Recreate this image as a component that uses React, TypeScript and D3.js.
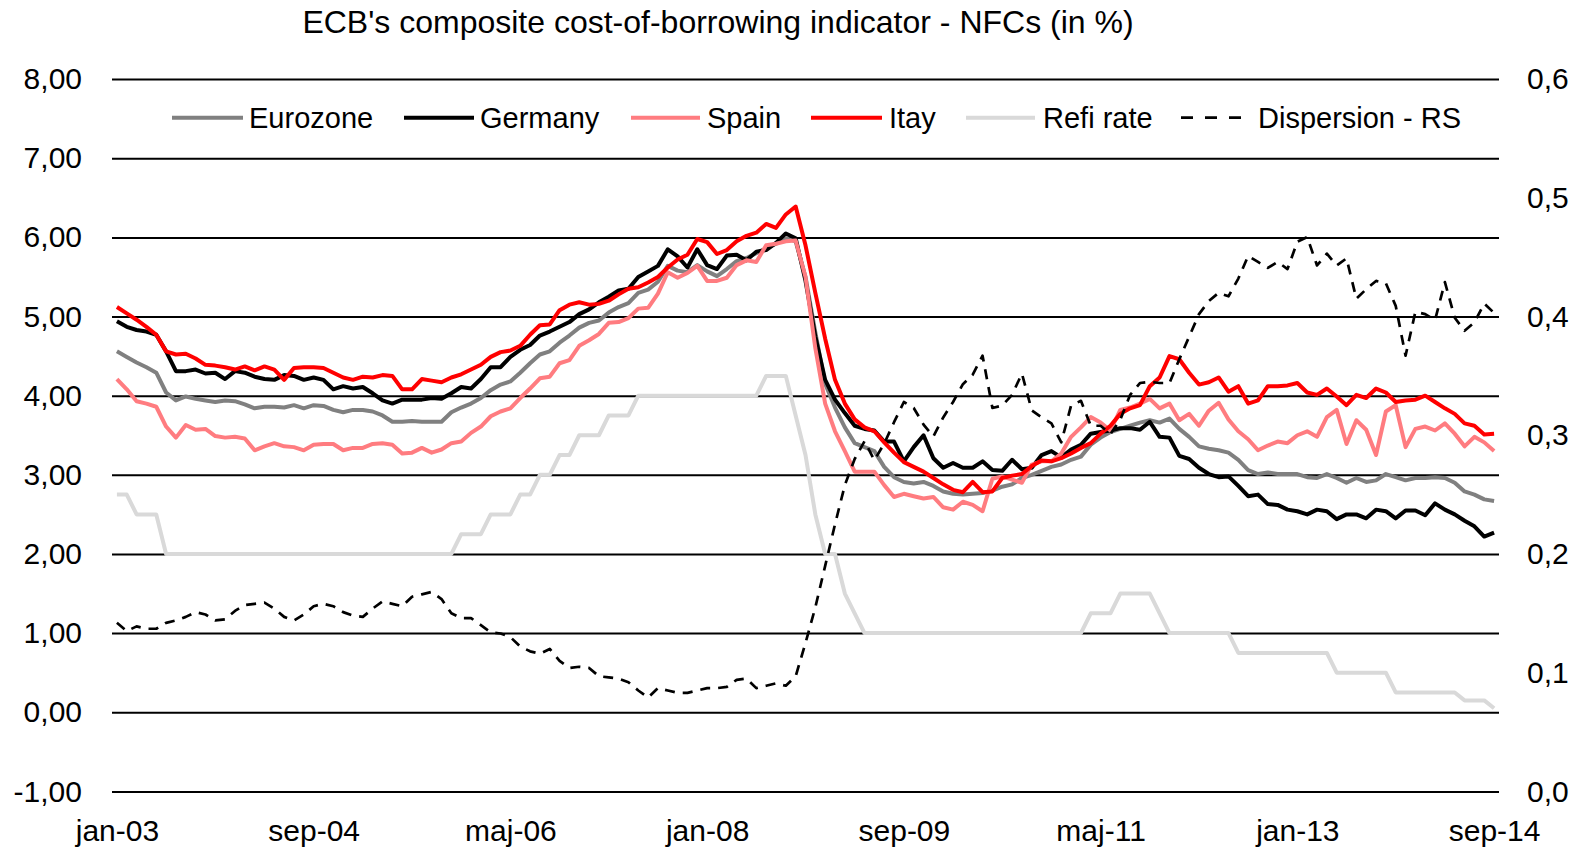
import React, { useEffect, useRef } from "react";
import * as d3 from "d3";

// monthly observations, jan-03 .. sep-14
const monthNames = ["jan", "feb", "mar", "apr", "maj", "jun", "jul", "aug", "sep", "okt", "nov", "dec"];
const months = d3.timeMonth.range(new Date(2003, 0, 1), new Date(2014, 9, 1));
const categories = months.map((d) => monthNames[d.getMonth()] + "-" + String(d.getFullYear()).slice(2));

const tickLabels = ["jan-03", "sep-04", "maj-06", "jan-08", "sep-09", "maj-11", "jan-13", "sep-14"];
const leftTicks = [-1, 0, 1, 2, 3, 4, 5, 6, 7, 8];
const rightTicks = [0, 0.1, 0.2, 0.3, 0.4, 0.5, 0.6];

const eurozone = [
  4.56, 4.49, 4.42, 4.36, 4.29, 4.04, 3.94, 3.99, 3.96, 3.94,
  3.92, 3.94, 3.93, 3.89, 3.84, 3.86, 3.86, 3.85, 3.88, 3.84,
  3.88, 3.87, 3.82, 3.79, 3.82, 3.82, 3.80, 3.75, 3.67, 3.67,
  3.68, 3.67, 3.67, 3.67, 3.79, 3.85, 3.90, 3.97, 4.07, 4.14,
  4.18, 4.29, 4.41, 4.52, 4.56, 4.67, 4.76, 4.86, 4.92, 4.95,
  5.05, 5.12, 5.17, 5.30, 5.34, 5.44, 5.64, 5.58, 5.56, 5.65,
  5.57, 5.51, 5.60, 5.70, 5.74, 5.80, 5.86, 5.92, 5.99, 5.95,
  5.50, 4.80, 4.15, 3.85, 3.60, 3.40, 3.35, 3.30, 3.10, 2.97,
  2.91, 2.89, 2.91, 2.86, 2.79, 2.76, 2.75, 2.76, 2.77, 2.80,
  2.85, 2.88, 2.96, 3.00, 3.05, 3.10, 3.13, 3.19, 3.23, 3.38,
  3.47, 3.54, 3.58, 3.62, 3.66, 3.69, 3.66, 3.71, 3.58, 3.48,
  3.36, 3.33, 3.31, 3.28, 3.19, 3.06, 3.01, 3.03, 3.01, 3.01,
  3.01, 2.97, 2.96, 3.01, 2.96, 2.90, 2.96, 2.91, 2.93, 3.01,
  2.97, 2.93, 2.96, 2.96, 2.97, 2.96, 2.90, 2.79, 2.75, 2.69,
  2.67,
];

const germany = [
  4.94, 4.87, 4.83, 4.81, 4.77, 4.56, 4.31, 4.31, 4.33, 4.28,
  4.29, 4.21, 4.31, 4.29, 4.24, 4.21, 4.20, 4.26, 4.25, 4.20,
  4.23, 4.20, 4.08, 4.12, 4.09, 4.11, 4.03, 3.94, 3.90, 3.95,
  3.95, 3.95, 3.97, 3.96, 4.03, 4.11, 4.09, 4.21, 4.36, 4.36,
  4.49, 4.58, 4.64, 4.76, 4.81, 4.87, 4.93, 5.03, 5.09, 5.18,
  5.25, 5.33, 5.35, 5.50, 5.57, 5.64, 5.85, 5.76, 5.62, 5.85,
  5.65, 5.60, 5.77, 5.78, 5.71, 5.82, 5.84, 5.93, 6.05, 5.99,
  5.45, 4.75, 4.20, 3.95, 3.78, 3.62, 3.58, 3.56, 3.42, 3.42,
  3.17, 3.35, 3.50, 3.21, 3.09, 3.15, 3.09, 3.09, 3.17, 3.06,
  3.05, 3.19, 3.07, 3.09, 3.25, 3.30, 3.22, 3.32, 3.38, 3.52,
  3.54, 3.56, 3.59, 3.59, 3.57, 3.67, 3.48, 3.47, 3.24, 3.20,
  3.09, 3.01, 2.97, 2.98, 2.86, 2.73, 2.75, 2.63, 2.62, 2.56,
  2.54, 2.50, 2.56, 2.54, 2.44, 2.50, 2.50, 2.45, 2.56, 2.54,
  2.45, 2.55, 2.55, 2.49, 2.64, 2.56, 2.50, 2.42, 2.35, 2.22,
  2.27,
];

const spain = [
  4.21, 4.08, 3.93, 3.90, 3.86, 3.61, 3.47, 3.63, 3.57, 3.58,
  3.49, 3.47, 3.48, 3.46, 3.31, 3.36, 3.40, 3.36, 3.35, 3.31,
  3.38, 3.39, 3.39, 3.31, 3.34, 3.34, 3.39, 3.40, 3.38, 3.27,
  3.28, 3.34, 3.28, 3.32, 3.40, 3.42, 3.53, 3.61, 3.74, 3.80,
  3.84, 3.97, 4.09, 4.22, 4.24, 4.41, 4.45, 4.63, 4.70, 4.78,
  4.92, 4.93, 4.98, 5.10, 5.11, 5.29, 5.56, 5.49, 5.55, 5.64,
  5.45, 5.45, 5.49, 5.65, 5.71, 5.69, 5.90, 5.92, 5.95, 5.96,
  5.50, 4.60, 3.90, 3.55, 3.30, 3.04, 3.04, 3.04, 2.87, 2.72,
  2.76, 2.73, 2.70, 2.72, 2.59, 2.56, 2.66, 2.62, 2.54, 2.95,
  2.98, 2.94, 2.90, 3.13, 3.17, 3.17, 3.27, 3.48, 3.60, 3.73,
  3.66, 3.56, 3.82, 3.85, 3.90, 3.96, 3.84, 3.90, 3.69, 3.77,
  3.62, 3.81, 3.91, 3.70, 3.55, 3.45, 3.31, 3.37, 3.42, 3.40,
  3.50, 3.55, 3.48, 3.73, 3.82, 3.39, 3.69, 3.57, 3.25, 3.80,
  3.88, 3.35, 3.58, 3.61, 3.56, 3.65, 3.52, 3.36, 3.48, 3.41,
  3.30,
];

const italy = [
  5.12, 5.04, 4.96, 4.87, 4.77, 4.56, 4.52, 4.53, 4.47, 4.39,
  4.38, 4.36, 4.33, 4.37, 4.32, 4.37, 4.33, 4.20, 4.35, 4.36,
  4.36, 4.35, 4.29, 4.23, 4.20, 4.24, 4.23, 4.26, 4.25, 4.08,
  4.08, 4.21, 4.19, 4.17, 4.23, 4.27, 4.33, 4.39, 4.49, 4.55,
  4.57, 4.63, 4.77, 4.89, 4.90, 5.08, 5.15, 5.18, 5.15, 5.16,
  5.20, 5.28, 5.35, 5.37, 5.43, 5.50, 5.62, 5.72, 5.78, 5.98,
  5.94, 5.79, 5.84, 5.95, 6.02, 6.06, 6.17, 6.12, 6.29, 6.39,
  5.90, 5.30, 4.72, 4.20, 3.90, 3.70, 3.60, 3.55, 3.41, 3.28,
  3.16, 3.10, 3.04, 2.96, 2.88, 2.81, 2.78, 2.91, 2.78, 2.79,
  2.96, 2.99, 3.01, 3.11, 3.18, 3.17, 3.21, 3.27, 3.34, 3.40,
  3.52, 3.62, 3.77, 3.84, 3.88, 4.12, 4.23, 4.50, 4.46, 4.29,
  4.14, 4.17, 4.23, 4.05, 4.12, 3.90, 3.94, 4.12, 4.12, 4.13,
  4.16, 4.04, 4.01, 4.09, 3.99, 3.88, 4.01, 3.97, 4.09, 4.04,
  3.92, 3.94, 3.95, 4.00, 3.92, 3.84, 3.77, 3.65, 3.62, 3.51,
  3.52,
];

const refiRate = [
  2.75, 2.75, 2.50, 2.50, 2.50, 2.00, 2.00, 2.00, 2.00, 2.00,
  2.00, 2.00, 2.00, 2.00, 2.00, 2.00, 2.00, 2.00, 2.00, 2.00,
  2.00, 2.00, 2.00, 2.00, 2.00, 2.00, 2.00, 2.00, 2.00, 2.00,
  2.00, 2.00, 2.00, 2.00, 2.00, 2.25, 2.25, 2.25, 2.50, 2.50,
  2.50, 2.75, 2.75, 3.00, 3.00, 3.25, 3.25, 3.50, 3.50, 3.50,
  3.75, 3.75, 3.75, 4.00, 4.00, 4.00, 4.00, 4.00, 4.00, 4.00,
  4.00, 4.00, 4.00, 4.00, 4.00, 4.00, 4.25, 4.25, 4.25, 3.75,
  3.25, 2.50, 2.00, 2.00, 1.50, 1.25, 1.00, 1.00, 1.00, 1.00,
  1.00, 1.00, 1.00, 1.00, 1.00, 1.00, 1.00, 1.00, 1.00, 1.00,
  1.00, 1.00, 1.00, 1.00, 1.00, 1.00, 1.00, 1.00, 1.00, 1.25,
  1.25, 1.25, 1.50, 1.50, 1.50, 1.50, 1.25, 1.00, 1.00, 1.00,
  1.00, 1.00, 1.00, 1.00, 0.75, 0.75, 0.75, 0.75, 0.75, 0.75,
  0.75, 0.75, 0.75, 0.75, 0.50, 0.50, 0.50, 0.50, 0.50, 0.50,
  0.25, 0.25, 0.25, 0.25, 0.25, 0.25, 0.25, 0.15, 0.15, 0.15,
  0.05,
];

// right axis
const dispersion = [
  0.142, 0.135, 0.139, 0.137, 0.137, 0.142, 0.144, 0.147, 0.151, 0.149,
  0.144, 0.145, 0.152, 0.157, 0.158, 0.159, 0.154, 0.147, 0.144, 0.149,
  0.156, 0.158, 0.156, 0.151, 0.148, 0.147, 0.154, 0.160, 0.158, 0.156,
  0.164, 0.166, 0.168, 0.162, 0.150, 0.146, 0.146, 0.140, 0.134, 0.133,
  0.130, 0.122, 0.118, 0.116, 0.120, 0.110, 0.104, 0.105, 0.104, 0.097,
  0.096, 0.095, 0.092, 0.085, 0.079, 0.087, 0.085, 0.083, 0.083, 0.085,
  0.087, 0.087, 0.088, 0.094, 0.095, 0.087, 0.089, 0.091, 0.089, 0.097,
  0.125, 0.155, 0.190, 0.225, 0.258, 0.280, 0.295, 0.279, 0.293, 0.311,
  0.328, 0.323, 0.309, 0.299, 0.315, 0.328, 0.343, 0.351, 0.367, 0.323,
  0.325, 0.334, 0.352, 0.321, 0.315, 0.310, 0.294, 0.325, 0.329, 0.308,
  0.308, 0.301, 0.313, 0.334, 0.344, 0.345, 0.344, 0.344, 0.364, 0.383,
  0.402, 0.413, 0.420, 0.417, 0.432, 0.451, 0.446, 0.441, 0.446, 0.440,
  0.463, 0.467, 0.443, 0.453, 0.443, 0.449, 0.415, 0.423, 0.430, 0.428,
  0.409, 0.367, 0.404, 0.402, 0.397, 0.429, 0.399, 0.388, 0.395, 0.411,
  0.403,
];

const FONT = "'Liberation Sans', Arial, sans-serif";
const W = 1591;
const H = 848;

const series = [
  { name: "Eurozone", values: eurozone, color: "#808080", right: false },
  { name: "Germany", values: germany, color: "#000000", right: false },
  { name: "Spain", values: spain, color: "#ff7c80", right: false },
  { name: "Itay", values: italy, color: "#ff0000", right: false },
  { name: "Refi rate", values: refiRate, color: "#d9d9d9", right: false },
  { name: "Dispersion - RS", values: dispersion, color: "#000000", right: true },
];

// legend layout (line start, line end, text start)
const legendPos = [
  [172, 243, 249],
  [404, 474, 480],
  [631, 700, 707],
  [811, 882, 889],
  [966, 1035, 1043],
  [1181, 1241, 1258],
];

const locale = d3.formatLocale({ decimal: ",", thousands: ".", grouping: [3], currency: ["", "€"], minus: "-" });

const App = () => {
  const svgRef = useRef(null);

  useEffect(() => {
    document.body.style.margin = "0";
    const svg = d3.select(svgRef.current);
    svg.selectAll("*").remove();

    const left = 112;
    const right = 1499;
    const top = 79.1;
    const bottom = 791.4;

    const x = d3.scalePoint().domain(categories).range([left, right]).padding(0.5);
    const yL = d3.scaleLinear().domain([-1, 8]).range([bottom, top]);
    const yR = d3.scaleLinear().domain([0, 0.6]).range([bottom, top]);

    // title
    svg.append("text")
      .attr("x", 718).attr("y", 33)
      .attr("text-anchor", "middle")
      .attr("font-family", FONT).attr("font-size", 32)
      .text("ECB's composite cost-of-borrowing indicator - NFCs (in %)");

    // left axis + gridlines
    const gL = svg.append("g").attr("transform", `translate(${left},0)`)
      .call(d3.axisLeft(yL).tickValues(leftTicks).tickSize(-(right - left)).tickPadding(30).tickFormat(locale.format(".2f")));
    gL.select(".domain").remove();
    gL.selectAll(".tick line").attr("stroke", "#000").attr("stroke-width", 2);
    gL.selectAll(".tick text").attr("font-family", FONT).attr("font-size", 30).attr("fill", "#000");

    // right axis
    const gR = svg.append("g").attr("transform", `translate(${right},0)`)
      .call(d3.axisRight(yR).tickValues(rightTicks).tickSize(0).tickPadding(28).tickFormat(locale.format(".1f")));
    gR.select(".domain").remove();
    gR.selectAll(".tick text").attr("font-family", FONT).attr("font-size", 30).attr("fill", "#000");

    // bottom axis
    const gB = svg.append("g").attr("transform", `translate(0,${bottom})`)
      .call(d3.axisBottom(x).tickValues(tickLabels).tickSize(0).tickPadding(28));
    gB.select(".domain").remove();
    gB.selectAll(".tick text").attr("font-family", FONT).attr("font-size", 30).attr("fill", "#000");

    // lines
    series.forEach((s) => {
      const y = s.right ? yR : yL;
      const line = d3.line<number>()
        .x((d, i) => x(categories[i]))
        .y((d) => y(d));
      svg.append("path")
        .datum(s.values)
        .attr("d", line)
        .attr("fill", "none")
        .attr("stroke", s.color)
        .attr("stroke-width", s.right ? 2.7 : 4)
        .attr("stroke-linejoin", "round")
        .attr("stroke-dasharray", s.right ? "10 8" : null);
    });

    // legend
    const ly = 117.7;
    const lg = svg.append("g");
    series.forEach((s, i) => {
      const [x1, x2, tx] = legendPos[i];
      lg.append("line")
        .attr("x1", x1).attr("x2", x2).attr("y1", ly).attr("y2", ly)
        .attr("stroke", s.color)
        .attr("stroke-width", s.right ? 2.7 : 4)
        .attr("stroke-dasharray", s.right ? "12 12" : null);
      lg.append("text")
        .attr("x", tx).attr("y", ly).attr("dy", "0.35em")
        .attr("font-family", FONT).attr("font-size", 29)
        .text(s.name);
    });
  }, []);

  return <svg ref={svgRef} width={W} height={H} style={{ display: "block", background: "#fff" }} />;
};

export default App;
